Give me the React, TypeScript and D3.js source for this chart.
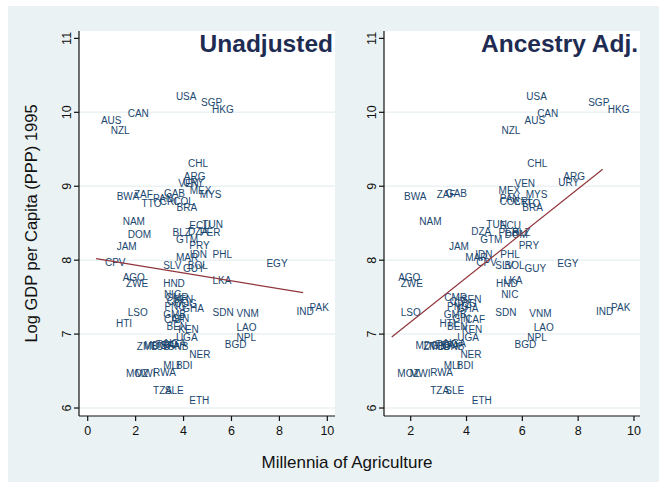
import React, { useEffect, useRef } from "react";
import * as d3 from "d3";

// country codes and the two series
const countries = [
  "USA", "SGP", "HKG", "CAN", "AUS", "NZL", "CHL", "ARG", "URY", "VEN",
  "MEX", "MYS", "GAB", "ZAF", "BWA", "PAN", "CRI", "TTO", "COL", "BRA",
  "NAM", "TUN", "ECU", "DZA", "PER", "BLZ", "DOM", "GTM", "PRY", "JAM",
  "PHL", "IDN", "MAR", "CPV", "SLV", "BOL", "GUY", "EGY", "LKA", "AGO",
  "ZWE", "HND", "NIC", "CMR", "SEN", "CIV", "COG", "PNG", "GHA", "LSO",
  "SDN", "VNM", "IND", "PAK", "GMB", "GIN", "CAF", "HTI", "LAO", "BEN",
  "KEN", "UGA", "NPL", "BGD", "ZMB", "MDG", "TCD", "TGO", "BFA", "NGA",
  "GNB", "NER", "MLI", "BDI", "MOZ", "MWI", "RWA", "TZA", "SLE", "ETH",
];

const logGdp = [
  10.21, 10.14, 10.04, 9.98, 9.89, 9.76, 9.31, 9.13, 9.05, 9.04,
  8.95, 8.89, 8.9, 8.89, 8.86, 8.84, 8.79, 8.77, 8.8, 8.72,
  8.52, 8.48, 8.47, 8.39, 8.38, 8.37, 8.35, 8.28, 8.2, 8.18,
  8.08, 8.08, 8.04, 7.97, 7.93, 7.93, 7.89, 7.96, 7.73, 7.77,
  7.69, 7.68, 7.54, 7.5, 7.47, 7.44, 7.41, 7.38, 7.35, 7.29,
  7.29, 7.28, 7.31, 7.36, 7.27, 7.21, 7.2, 7.14, 7.09, 7.1,
  7.06, 6.96, 6.95, 6.86, 6.84, 6.85, 6.84, 6.86, 6.85, 6.88,
  6.83, 6.73, 6.57, 6.57, 6.47, 6.47, 6.48, 6.24, 6.24, 6.1,
];

const milleniaRaw = [
  3.68, 4.73, 5.19, 1.67, 0.55, 0.96, 4.19, 4.01, 3.98, 3.78,
  4.26, 4.68, 3.18, 1.93, 1.21, 2.73, 3.01, 2.25, 3.57, 3.71,
  1.46, 4.79, 4.24, 4.19, 4.68, 3.54, 1.67, 3.68, 4.24, 1.21,
  5.21, 4.26, 3.68, 0.72, 3.15, 4.18, 3.98, 7.46, 5.21, 1.46,
  1.6, 3.15, 3.18, 3.25, 3.55, 3.3, 3.6, 3.2, 3.95, 1.67,
  5.21, 6.21, 8.71, 9.26, 3.15, 3.5, 3.18, 1.18, 6.21, 3.29,
  3.78, 3.68, 6.21, 5.72, 2.05, 2.35, 2.6, 2.85, 3.05, 3.2,
  3.3, 4.24, 3.15, 3.68, 1.6, 1.97, 2.73, 2.73, 3.22, 4.24,
];

const milleniaAdj = [
  6.14, 8.36, 9.06, 6.53, 6.08, 5.25, 6.18, 7.47, 7.29, 5.72,
  5.15, 6.12, 3.26, 2.93, 1.76, 5.19, 5.68, 5.93, 5.18, 6.0,
  2.31, 4.71, 5.19, 4.17, 5.15, 5.63, 5.36, 4.49, 5.87, 3.37,
  5.21, 4.31, 3.95, 4.35, 5.03, 5.36, 6.08, 7.25, 5.33, 1.55,
  1.64, 5.06, 5.24, 3.2, 3.8, 3.4, 3.55, 3.3, 3.65, 1.64,
  5.03, 6.25, 8.64, 9.18, 3.18, 3.5, 3.95, 3.03, 6.41, 3.3,
  3.83, 3.67, 6.18, 5.72, 2.45, 2.17, 2.7, 2.9, 3.05, 3.2,
  3.15, 3.78, 3.18, 3.65, 1.52, 1.97, 2.7, 2.7, 3.24, 4.19,
];

// fitted line end points [millennia, log gdp]
const fitRaw: [number, number][] = [[0.35, 8.02], [8.99, 7.56]];
const fitAdj: [number, number][] = [[1.32, 6.96], [8.88, 9.23]];

const yTicks = [6, 7, 8, 9, 10, 11];
const yGrid = [6, 7, 8, 9, 10];
const xTicksRaw = [0, 2, 4, 6, 8, 10];
const xTicksAdj = [2, 4, 6, 8, 10];

const W = 659;
const H = 482;
const plotTop = 31;
const plotBottom = 416;
const labelColor = "#1a476f";
const bgColor = "#eaf2f3";
const font = "'Liberation Sans', Arial, sans-serif";

const panels = [
  { title: "Unadjusted", left: 79, right: 335, xDomain: [-0.363, 10.32], xTicks: xTicksRaw, xs: milleniaRaw, fit: fitRaw },
  { title: "Ancestry Adj.", left: 384, right: 640, xDomain: [1.043, 10.216], xTicks: xTicksAdj, xs: milleniaAdj, fit: fitAdj },
];

const App: React.FC = () => {
  const svgRef = useRef<SVGSVGElement>(null);

  useEffect(() => {
    if (!svgRef.current) return;
    const svg = d3.select(svgRef.current);
    svg.selectAll("*").remove();

    svg.append("rect").attr("width", W).attr("height", H).attr("fill", "#fff");
    svg.append("rect").attr("x", 8).attr("y", 6).attr("width", W - 8).attr("height", H - 6).attr("fill", bgColor);

    const y = d3.scaleLinear().domain([5.892, 11.1]).range([plotBottom, plotTop]);

    panels.forEach((p) => {
      const x = d3.scaleLinear().domain(p.xDomain).range([p.left, p.right]);
      const g = svg.append("g");

      // plot region
      g.append("rect")
        .attr("x", p.left)
        .attr("y", plotTop)
        .attr("width", p.right - p.left)
        .attr("height", plotBottom - plotTop)
        .attr("fill", "#fff");

      // gridlines
      g.selectAll(".grid")
        .data(yGrid)
        .enter()
        .append("line")
        .attr("x1", p.left)
        .attr("x2", p.right)
        .attr("y1", (d) => y(d))
        .attr("y2", (d) => y(d))
        .attr("stroke", bgColor)
        .attr("stroke-width", 1.5);

      // y axis
      g.append("line")
        .attr("x1", p.left).attr("x2", p.left)
        .attr("y1", plotTop).attr("y2", plotBottom)
        .attr("stroke", "#111").attr("stroke-width", 1.2);
      g.selectAll(".ytick")
        .data(yTicks)
        .enter()
        .append("line")
        .attr("x1", p.left - 5).attr("x2", p.left)
        .attr("y1", (d) => y(d)).attr("y2", (d) => y(d))
        .attr("stroke", "#111").attr("stroke-width", 1.2);
      g.selectAll(".ylab")
        .data(yTicks)
        .enter()
        .append("text")
        .attr("transform", (d) => `translate(${p.left - 8},${y(d)}) rotate(-90)`)
        .attr("text-anchor", "middle")
        .style("font-family", font)
        .style("font-size", "12.5px")
        .style("fill", "#111")
        .text((d) => d);

      // x axis
      g.append("line")
        .attr("x1", p.left).attr("x2", p.right)
        .attr("y1", plotBottom).attr("y2", plotBottom)
        .attr("stroke", "#111").attr("stroke-width", 1.2);
      g.selectAll(".xtick")
        .data(p.xTicks)
        .enter()
        .append("line")
        .attr("x1", (d) => x(d)).attr("x2", (d) => x(d))
        .attr("y1", plotBottom).attr("y2", plotBottom + 5)
        .attr("stroke", "#111").attr("stroke-width", 1.2);
      g.selectAll(".xlab")
        .data(p.xTicks)
        .enter()
        .append("text")
        .attr("x", (d) => x(d))
        .attr("y", plotBottom + 19)
        .attr("text-anchor", "middle")
        .style("font-family", font)
        .style("font-size", "12.5px")
        .style("fill", "#111")
        .text((d) => d);

      // country labels
      g.selectAll(".country")
        .data(countries)
        .enter()
        .append("text")
        .attr("x", (_, i) => x(p.xs[i]))
        .attr("y", (_, i) => y(logGdp[i]))
        .attr("dy", "0.36em")
        .style("font-family", font)
        .style("font-size", "10px")
        .style("fill", labelColor)
        .text((d) => d);

      // fitted line
      const line = d3.line<[number, number]>().x((d) => x(d[0])).y((d) => y(d[1]));
      g.append("path")
        .attr("d", line(p.fit))
        .attr("fill", "none")
        .attr("stroke", "#90353b")
        .attr("stroke-width", 1.2);

      // panel title
      g.append("text")
        .attr("x", p.right - 2)
        .attr("y", 52)
        .attr("text-anchor", "end")
        .style("font-family", font)
        .style("font-weight", "bold")
        .style("font-size", "24.5px")
        .style("fill", "#1e2b52")
        .text(p.title);
    });

    // axis titles
    svg.append("text")
      .attr("transform", `translate(37,${(plotTop + plotBottom) / 2}) rotate(-90)`)
      .attr("text-anchor", "middle")
      .style("font-family", font)
      .style("font-size", "16.5px")
      .style("fill", "#111")
      .text("Log GDP per Capita (PPP) 1995");

    svg.append("text")
      .attr("x", 347)
      .attr("y", 468)
      .attr("text-anchor", "middle")
      .style("font-family", font)
      .style("font-size", "17px")
      .style("fill", "#111")
      .text("Millennia of Agriculture");
  }, []);

  return (
    <div style={{ position: "absolute", left: 0, top: 0 }}>
      <svg ref={svgRef} width={W} height={H} style={{ display: "block" }} />
    </div>
  );
};

export default App;
